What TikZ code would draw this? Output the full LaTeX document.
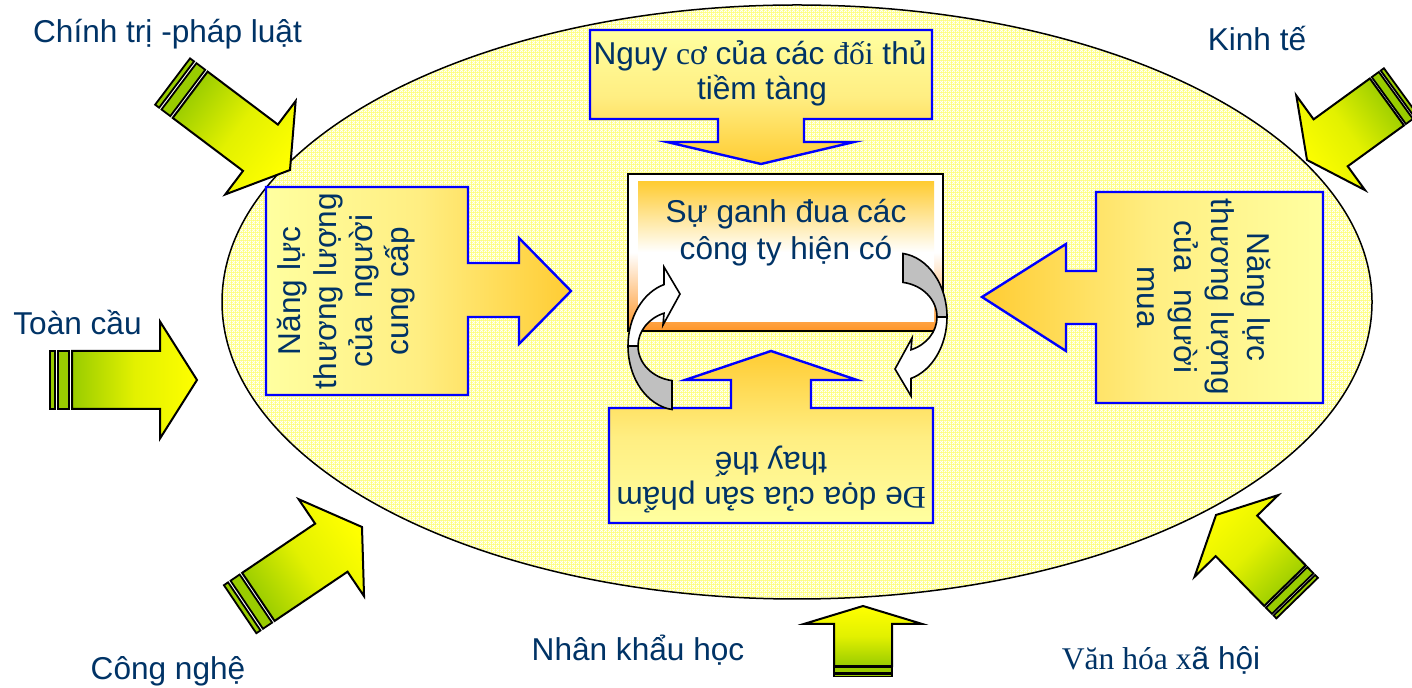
\documentclass[tikz,border=0pt]{standalone}
\usepackage{fontspec}
\setmainfont{Liberation Sans}
\newfontfamily\tms{Liberation Serif}
\usetikzlibrary{patterns}

\definecolor{txt}{RGB}{0,51,102}
\definecolor{cblue}{RGB}{0,0,255}
\definecolor{pale}{RGB}{255,255,160}
\definecolor{paleb}{RGB}{255,238,130}
\definecolor{gold}{RGB}{255,204,51}
\definecolor{leaf}{RGB}{153,204,0}
\definecolor{ellyel}{RGB}{255,255,120}
\definecolor{orangeb}{RGB}{255,150,40}
\definecolor{grayarr}{RGB}{192,192,192}

\pgfdeclarepatternformonly{lattice}{\pgfpointorigin}{\pgfpoint{2pt}{2pt}}{\pgfpoint{2pt}{2pt}}{%
  \pgfsetlinewidth{0.45pt}%
  \pgfpathmoveto{\pgfpoint{0pt}{0pt}}\pgfpathlineto{\pgfpoint{2pt}{2pt}}%
  \pgfpathmoveto{\pgfpoint{0pt}{2pt}}\pgfpathlineto{\pgfpoint{2pt}{0pt}}%
  \pgfusepath{stroke}}

\tikzset{
  lbl/.style={text=txt, font=\fontsize{15.8}{17.5}\selectfont, inner sep=0pt, anchor=base},
  callout/.style={draw=cblue, line width=1.2pt, line join=miter},
  envbody/.style={draw=black, line width=1pt, line join=miter, shading=axis,
    bottom color=leaf, top color=yellow, middle color=yellow!72!leaf},
  envstripe/.style={draw=black, line width=0.9pt, fill=leaf},
  turn/.style={draw=black, line width=0.8pt, line join=miter},
}

\newcommand{\envarrow}[4]{% tip x, tip y, screen angle, length scale
  \pgfmathsetmacro{\envrot}{-(#3)}%
  \pgfmathsetmacro{\envsh}{-(#3)-90}%
  \begin{scope}[shift={(#1,#2)}, rotate=\envrot, xscale=#4]
    \path[envbody, shading angle=\envsh] (0,0) -- (-37,58.5) -- (-37,29) -- (-125,29)
      -- (-125,-29) -- (-37,-29) -- (-37,-58.5) -- cycle;
    \path[envstripe] (-128,29) rectangle (-139,-29);
    \path[envstripe] (-142,29) rectangle (-147,-29);
  \end{scope}}

\newcommand{\turnarrow}{%
  \path[turn, fill=grayarr] (672,409.5) arc[start angle=96.9, end angle=180, x radius=50, y radius=64]
    -- (638,346) arc[start angle=180, end angle=98.6, x radius=40, y radius=35] -- cycle;
  \path[turn, fill=white] (628,346) arc[start angle=180, end angle=253.7, x radius=50, y radius=64]
    -- (664,267) -- (680,294) -- (663,325) -- (664,313.2)
    arc[start angle=249.5, end angle=180, x radius=40, y radius=35] -- cycle;}

\begin{document}
\begin{tikzpicture}[x=0.5pt, y=-0.5pt]
  \useasboundingbox (0,0) rectangle (1412,688);
  \fill[white] (0,0) rectangle (1412,688);

  % environment ellipse
  \path[fill=ellyel, postaction={pattern=lattice, pattern color=white}]
    (797,302) ellipse[x radius=575, y radius=297];
  \draw[line width=0.75pt] (797,302) ellipse[x radius=575, y radius=297];

  % top callout: potential entrants
  \path[callout, top color=pale, bottom color=gold, middle color=paleb]
    (590,30) -- (932,30) -- (932,119) -- (804,119) -- (804,142) -- (854,142) -- (761,164)
    -- (667,142) -- (718,142) -- (718,119) -- (590,119) -- cycle;
  % bottom callout: substitutes
  \path[callout, top color=gold, bottom color=pale, middle color=paleb]
    (609,523) -- (933,523) -- (933,408) -- (811,408) -- (811,380) -- (857,380) -- (771,351)
    -- (685,380) -- (731,380) -- (731,408) -- (609,408) -- cycle;
  % left callout: suppliers
  \path[callout, left color=pale, right color=gold, middle color=paleb]
    (266,187) -- (468,187) -- (468,263) -- (519,263) -- (519,238) -- (571,291) -- (519,344)
    -- (519,317) -- (468,317) -- (468,395) -- (266,395) -- cycle;
  % right callout: buyers
  \path[callout, left color=gold, right color=pale, middle color=paleb]
    (1323,192) -- (1096,192) -- (1096,271) -- (1066,271) -- (1066,244) -- (982,297) -- (1066,351)
    -- (1066,324) -- (1096,324) -- (1096,403) -- (1323,403) -- cycle;

  % centre box
  \path[top color=white, bottom color=orangeb, middle color=white] (628,174) rectangle (943,331);
  \path[top color=gold, bottom color=white, middle color=white] (638,182) rectangle (934,322);
  \draw[line width=1pt] (628,174) rectangle (943,331);

  % circular arrows
  \turnarrow
  \begin{scope}[rotate around={180:(787.5,331.5)}]
    \turnarrow
  \end{scope}

  % environment arrows
  \envarrow{290}{170}{37}{1}
  \envarrow{197}{380}{0}{1}
  \envarrow{362}{527}{-34}{1}
  \envarrow{863}{606}{-90}{0.48}
  \envarrow{1307}{160}{144}{0.79}
  \envarrow{1216}{515}{-134.3}{0.79}

  % texts
  \node[lbl] (entr1) at (760,65) {Nguy {\tms cơ} của các {\tms đối} thủ};
  \node[lbl] (entr2) at (762,100) {tiềm tàng};
  \node[lbl] (rival1) at (786,223) {Sự ganh đua các};
  \node[lbl] (rival2) at (786,260) {công ty hiện có};
  \node[lbl, rotate=180] (sub1) at (771,488) {{\tms Đ}e dọa của sản phẩm};
  \node[lbl, rotate=180] (sub2) at (771,453) {thay thế};
  \node[lbl, rotate=90] (sup1) at (300,291) {Năng lực};
  \node[lbl, rotate=90] (sup2) at (336,291) {thương lượng};
  \node[lbl, rotate=90] (sup3) at (372,291) {của~ người};
  \node[lbl, rotate=90] (sup4) at (408,291) {cung cấp};
  \node[lbl, rotate=-90] (buy1) at (1247,297) {Năng lực};
  \node[lbl, rotate=-90] (buy2) at (1211,297) {thương lượng};
  \node[lbl, rotate=-90] (buy3) at (1174,297) {của~ người};
  \node[lbl, rotate=-90] (buy4) at (1137,297) {mua};

  \node[lbl] (chinhtri) at (167.5,43) {Chính trị -pháp luật};
  \node[lbl] (kinhte) at (1257,51) {Kinh tế};
  \node[lbl] (toancau) at (77.5,335) {Toàn cầu};
  \node[lbl] (congnghe) at (168,679) {Công nghệ};
  \node[lbl] (nhankhau) at (638,661) {Nhân khẩu học};
  \node[lbl] (vanhoa) at (1161,669) {{\tms Văn hóa x}ã hội};
\end{tikzpicture}
\end{document}
